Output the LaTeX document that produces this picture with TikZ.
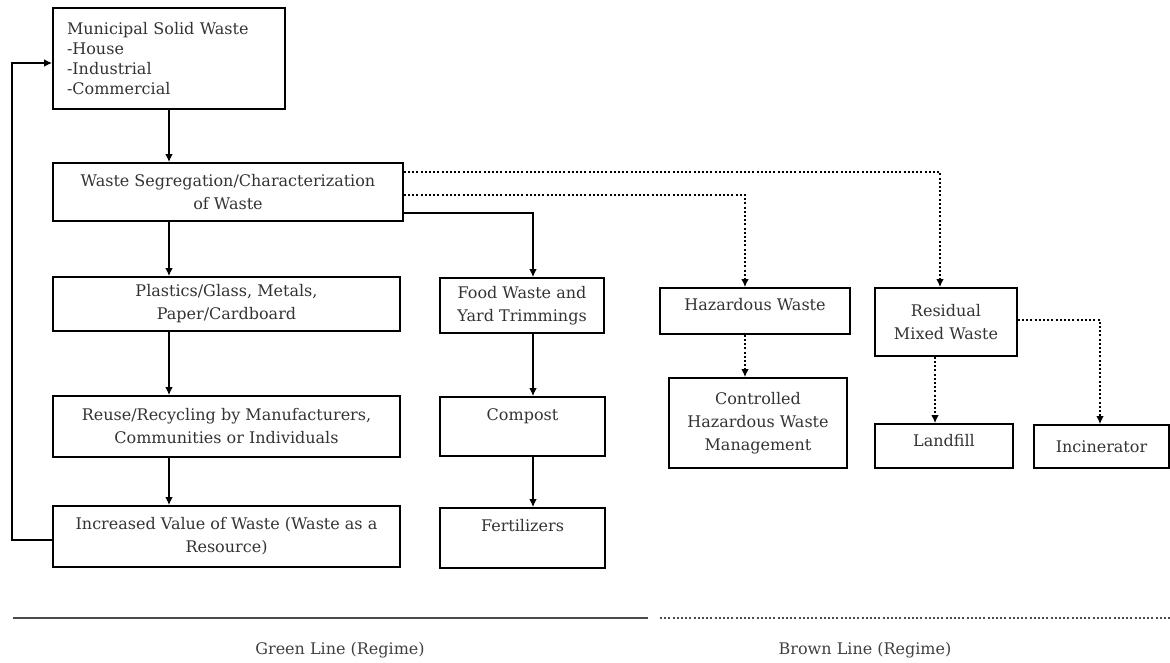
\documentclass[tikz,border=0pt]{standalone}
\usepackage{fontspec}
\setmainfont{DejaVu Serif}
\usetikzlibrary{arrows.meta}

\begin{document}
\begin{tikzpicture}[
    x=1pt, y=-1pt,
    font=\fontsize{16}{23}\selectfont,
    box/.style={draw, line width=1.6pt, inner sep=0pt, align=center,
                text=black!80},
    flow/.style={-{Latex[length=8pt,width=7.5pt]}, line width=1.5pt},
    dflow/.style={flow, line width=2.3pt, dash pattern=on 2pt off 2.2pt},
    caption/.style={text=black!75},
  ]
  \useasboundingbox (0,0) rectangle (1170,662);

  % green line boxes
  \node[box, align=left, text width=204pt, inner xsep=14pt,
        minimum height=101pt, font=\fontsize{16}{20}\selectfont] (msw) at (169,58.5)
    {Municipal Solid Waste\\-House\\-Industrial\\-Commercial};

  \node[box, minimum width=350pt, minimum height=58pt] (seg) at (228,192)
    {Waste Segregation/Characterization\\of Waste};

  \node[box, minimum width=347pt, minimum height=54pt] (plas) at (226.5,304)
    {Plastics/Glass, Metals,\\Paper/Cardboard};

  \node[box, minimum width=347pt, minimum height=61pt] (reuse) at (226.5,426.5)
    {Reuse/Recycling by Manufacturers,\\Communities or Individuals};

  \node[box, minimum width=347pt, minimum height=61pt] (incr) at (226.5,536.5)
    {Increased Value of Waste (Waste as a\\Resource)};

  \node[box, minimum width=164pt, minimum height=55pt] (food) at (522,305.5)
    {Food Waste and\\Yard Trimmings};

  \node[box, minimum width=165pt, minimum height=59pt,
        text height=12pt, text depth=24pt] (comp) at (522.5,426.5) {Compost};

  \node[box, minimum width=165pt, minimum height=60pt,
        text height=12pt, text depth=25pt] (fert) at (522.5,538) {Fertilizers};

  % brown line boxes
  \node[box, minimum width=190pt, minimum height=46pt,
        text height=12pt, text depth=13pt] (haz) at (755,311) {Hazardous Waste};

  \node[box, minimum width=178pt, minimum height=90pt] (ctrl) at (758,423)
    {Controlled\\Hazardous Waste\\Management};

  \node[box, minimum width=142pt, minimum height=68pt] (res) at (946,322)
    {Residual\\Mixed Waste};

  \node[box, minimum width=138pt, minimum height=44pt,
        text height=12pt, text depth=11pt] (land) at (944,446) {Landfill};

  \node[box, minimum width=135pt, minimum height=43pt] (inc) at (1101.5,446.5)
    {Incinerator};

  % solid connectors
  \draw[flow] (msw.south) -- (seg.north -| msw.south);
  \draw[flow] (seg.south -| msw.south) -- (plas.north -| msw.south);
  \draw[flow] (plas.south -| msw.south) -- (reuse.north -| msw.south);
  \draw[flow] (reuse.south -| msw.south) -- (incr.north -| msw.south);
  \draw[flow] ([yshift=-3.5pt]incr.west) -- ++(-40,0)
    |- ([yshift=-4.5pt]msw.west);
  \draw[flow] ([yshift=-21pt]seg.east) -| ([xshift=11pt]food.north);
  \draw[flow] ([xshift=11pt]food.south) -- ([xshift=10.5pt]comp.north);
  \draw[flow] ([xshift=10.5pt]comp.south) -- ([xshift=10.5pt]fert.north);

  % dotted connectors
  \draw[dflow] ([yshift=20pt]seg.east) -| ([xshift=-6pt]res.north);
  \draw[dflow] ([yshift=-3pt]seg.east) -| ([xshift=-10pt]haz.north);
  \draw[dflow] ([xshift=-10pt]haz.south) -- ([xshift=-13pt]ctrl.north);
  \draw[dflow] ([xshift=-11pt]res.south) -- ([xshift=-9pt]land.north);
  \draw[dflow] ([yshift=2pt]res.east) -| ([xshift=-1.5pt]inc.north);

  % regime key
  \draw[line width=1.6pt, black!70] (13,618) -- (648,618);
  \draw[line width=2.3pt, black!70, dash pattern=on 2pt off 2.2pt]
    (660,618) -- (1170,618);
  \node[caption] (green) at (340,650) {Green Line (Regime)};
  \node[caption] (brown) at (865,650) {Brown Line (Regime)};

\end{tikzpicture}
\end{document}
